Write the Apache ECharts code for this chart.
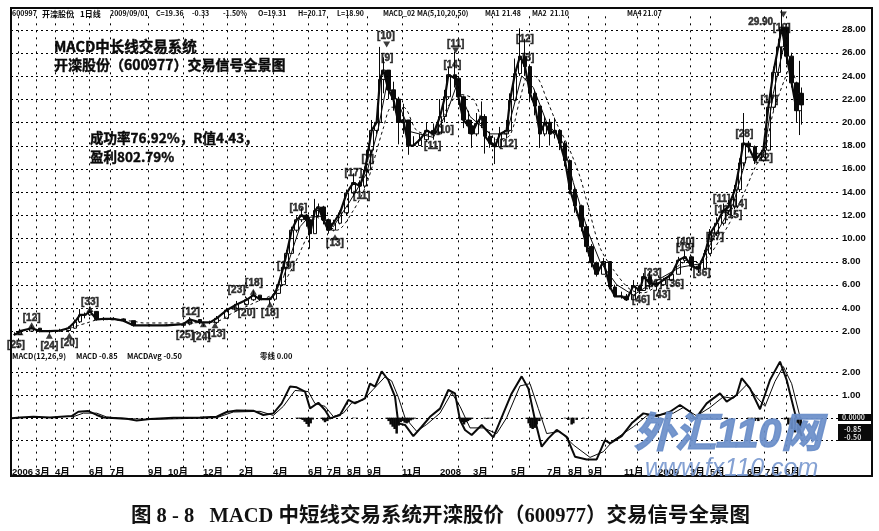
<!DOCTYPE html>
<html><head><meta charset="utf-8">
<style>html,body{margin:0;padding:0;background:#fff}#c{width:879px;height:531px}</style>
<script src="https://cdn.jsdelivr.net/npm/echarts@6/dist/echarts.min.js"></script>
</head><body><div id="c"></div>
<script>
// session position, close, low, high
const candles = [[45,1.7,1.6,1.9],[60,2.0,1.7,2.2],[95,2.25,2.0,2.5],[120,2.0,1.9,2.2],[150,2.0,1.8,2.1],[180,2.05,1.95,2.2],[205,2.25,1.9,2.4],[225,2.8,2.2,3.0],[240,3.4,2.7,3.9],[255,3.4,3.1,3.6],[270,3.7,3.3,4.1],[290,3.0,2.9,3.6],[310,3.05,2.9,3.2],[340,3.05,3.0,3.2],[370,2.9,2.8,3.1],[400,2.5,2.4,2.9],[450,2.5,2.4,2.6],[500,2.5,2.45,2.6],[550,2.6,2.3,2.7],[570,3.0,2.5,3.2],[600,2.75,2.6,3.0],[630,2.75,2.6,2.9],[650,3.1,2.6,3.3],[680,3.8,3.1,4.0],[710,4.3,3.7,4.6],[740,4.7,4.2,4.9],[760,5.1,4.6,5.5],[780,4.75,4.6,5.1],[810,4.75,4.3,4.9],[825,5.25,4.6,5.5],[835,6,5.2,6.2],[850,7.5,6,7.8],[860,8.7,7.4,9],[875,10.7,8.7,11],[890,11.6,10.5,11.9],[905,12,11.4,12.6],[920,11.6,11,12.1],[930,10.4,9.1,11.8],[945,12.4,10.4,13.4],[955,12.7,11.9,13],[970,11.6,11.2,12.8],[985,10.7,10.4,11.7],[1000,11.3,10.6,11.6],[1020,12.2,11.2,12.4],[1040,13.9,12,14.2],[1060,14.8,13.6,15.6],[1080,14.5,14,15],[1095,15.9,14.3,16.2],[1105,17.6,15.6,18.2],[1115,19.3,17.3,20.2],[1130,20,19,20.4],[1140,23.7,20,26.5],[1150,24.5,22.5,25.6],[1165,22.8,22,24.5],[1180,22,21,23.5],[1195,20,18.1,22.2],[1210,20.2,19,21.6],[1225,18,17.2,20.1],[1240,18,17.9,18.8],[1260,18.5,18,19],[1280,19.3,18.3,20],[1300,19,18.5,19.9],[1320,20.5,19.2,22],
[1335,22.2,20,22.8],[1345,24.1,22,24.8],[1365,23.8,23,26.1],[1375,22.2,21.5,24],[1390,20.2,19.5,22.3],[1405,19.7,19,21],[1415,19,17.8,20.2],[1430,19.9,18.8,20.8],[1445,20.5,19.5,21.8],[1455,18.8,17.3,20.7],[1470,18.2,17.8,19.2],[1485,17.9,16.4,18.7],[1500,19,17.8,19.6],[1520,19.3,18.6,20.2],[1530,21.9,19.2,22.5],[1545,24.2,21.8,25.5],[1560,25.7,24,28.1],[1575,24.8,24,27.2],[1590,22.5,21.8,25],[1605,21.4,20.6,22.8],[1620,19,17.8,21.4],[1635,20,18.8,20.5],[1650,19,18,20.3],[1665,19.3,18.6,20.4],[1680,18.2,17.6,19.4],[1695,16.7,16.2,18.4],[1710,14.2,13.8,16.8],[1725,12.8,12.2,14.4],[1745,11,10.6,12.9],[1760,9.3,8.8,11.2],[1775,7.9,7.5,9.5],[1790,6.9,6.7,8],[1810,8,6.9,8.3],[1830,5.8,5.6,8],[1845,5,4.9,6],[1865,5,4.8,5.4],[1880,4.7,4.6,5.2],[1900,5.9,4.7,6.4],[1920,5.5,5.2,6],[1930,6.7,5.5,7],[1950,6.1,5.6,7.2],[1970,6,5.5,6.4],[1990,6.4,5.9,6.6],[2015,6.9,6.3,7.1],[2035,8.1,6.9,8.4],[2055,8.4,7.9,8.9],[2075,7.6,7.2,8.5],[2095,7.4,7,7.8],[2115,8.7,7.3,9],[2130,10.4,8.6,10.8],[2150,11.3,10.2,11.8],[2170,12.4,11.1,13],[2185,12.7,12,13.3],[2205,14.2,12.5,14.6],[2220,16.5,14,16.9],[2230,18.2,16.2,20.8],[2245,17.9,17.4,18.4],[2265,16.7,16.4,18],[2290,17.6,16.6,17.9],[2305,21.3,17.5,21.8],[2320,24.3,21,24.8],[2335,26.5,24,27.2],[2345,28.2,25.5,29.7],[2360,25.7,25,28],[2375,23.4,23,26],[2390,21,20,23.5],[2400,22.5,18.9,25.3],[2405,21.5,19.8,23]];
const ma20 = [[210,2.25],[260,2.7],[300,3.0],[400,2.85],[430,2.7],[640,2.75],[700,3.6],[760,4.4],[830,5.4],[880,7.6],[925,10.4],[950,11.8],[1010,10.7],[1060,12.4],[1100,14.7],[1150,19.5],[1175,21.3],[1210,21.3],[1250,19.3],[1300,18.9],[1320,19.9],[1345,21.4],[1380,22.4],[1420,22],[1450,19.9],[1490,18.5],[1530,18.9],[1560,22],[1585,24],[1610,23.9],[1640,22],[1670,19.9],[1705,17.9],[1740,15.3],[1765,12.7],[1800,9.2],[1840,7.3],[1890,5.6],[1930,5.3],[2000,6.7],[2050,7.9],[2110,8.1],[2170,10.4],[2220,13.1],[2265,16.1],[2295,17.7],[2320,20.9],[2355,23.8],[2375,25.2],[2380,23.4]];
const ma10 = [[850,6.6],[875,8.8],[900,11],[925,11.8],[960,11.9],[1000,11],[1050,13.2],[1100,15.6],[1135,19.5],[1160,23.2],[1190,22],[1230,19.2],[1300,18.7],[1340,20.8],[1370,23.2],[1410,20.5],[1470,19],[1520,19],[1565,24],[1600,23],[1640,20],[1690,18.2],[1720,14.8],[1765,10.5],[1800,8],[1850,6],[1900,5.1],[1960,6.2],[2040,7.5],[2100,7.8],[2150,10.5],[2200,13],[2240,17],[2290,17],[2320,22.5],[2350,26.4],[2385,23.8]];
const macdLine = [[35,-0.03],[60,0.01],[100,0.04],[150,0.01],[215,0.07],[235,0.26],[265,0.29],[290,0.12],[310,0.01],[350,-0.03],[385,-0.06],[410,-0.13],[450,-0.06],[520,0],[600,0.01],[650,0.04],[680,0.25],[710,0.32],[760,0.31],[790,0.12],[820,0.19],[845,0.63],[870,1.37],[890,1.34],[915,1.15],[930,0.41],[955,0.66],[975,0.34],[990,-0.03],[1020,0.12],[1045,0.78],[1065,0.63],[1095,0.85],[1110,1.5],[1125,1.37],[1145,2.04],[1165,1.66],[1185,0.93],[1195,-0.25],[1215,-0.32],[1240,-0.81],[1265,-0.4],[1290,0.04],[1320,0.4],[1345,1.22],[1365,1.07],[1380,-0.1],[1395,-0.54],[1415,-0.76],[1445,-0.32],[1480,-0.87],[1510,0.19],[1535,1.07],[1565,1.82],[1585,1.29],[1605,-0.1],[1625,-1.28],[1645,-0.91],[1670,-0.54],[1700,-0.84],[1725,-1.72],[1760,-1.84],[1790,-1.84],[1815,-0.99],[1830,-1.13],[1865,-0.81],[1895,-0.25],[1930,0.19],[1970,0.07],[2010,0.26],[2040,0.56],[2070,0.26],[2085,-0.07],[2120,0.63],[2160,1.07],[2180,0.71],[2210,1],[2225,1.74],[2250,1.29],[2280,0.37],[2310,1.66],[2340,2.47],[2360,1.66],[2385,0.19],[2405,-0.82]];
const signalLine = [[215,0.02],[250,0.2],[290,0.2],[320,0.03],[400,-0.05],[450,-0.08],[650,0],[700,0.25],[780,0.28],[820,0.1],[850,0.5],[885,1.2],[925,1.15],[945,0.62],[975,0.5],[1000,0.05],[1030,0.2],[1055,0.65],[1090,0.78],[1120,1.25],[1155,1.8],[1175,1.62],[1195,0.9],[1215,0],[1250,-0.6],[1280,-0.3],[1320,0.2],[1355,1.1],[1380,0.5],[1410,-0.45],[1450,-0.45],[1490,-0.7],[1520,0],[1560,1.4],[1590,1.5],[1615,0.4],[1640,-0.7],[1680,-0.6],[1720,-1.2],[1770,-1.75],[1810,-1.5],[1840,-1],[1900,-0.4],[1940,0.08],[2020,0.2],[2050,0.45],[2090,0.08],[2130,0.45],[2170,0.92],[2200,0.85],[2240,1.45],[2270,0.9],[2295,0.5],[2325,1.6],[2350,2.25],[2375,1.5],[2405,-0.25]];
const histogram = [[890,-0.02],[896,-0.04],[902,-0.06],[908,-0.1],[914,-0.18],[920,-0.28],[926,-0.4],[932,-0.25],[938,-0.08],[965,-0.05],[970,-0.12],[975,-0.2],[982,-0.15],[988,-0.07],[1060,-0.02],[1070,-0.02],[1160,-0.05],[1166,-0.15],[1172,-0.3],[1178,-0.4],[1184,-0.5],[1190,-0.7],[1196,-0.35],[1202,-0.2],[1208,-0.15],[1214,-0.22],[1220,-0.25],[1226,-0.2],[1232,-0.12],[1238,-0.08],[1244,-0.04],[1380,-0.05],[1386,-0.2],[1392,-0.3],[1398,-0.2],[1404,-0.15],[1410,-0.1],[1416,-0.05],[1455,-0.04],[1465,-0.05],[1475,-0.05],[1580,-0.05],[1586,-0.25],[1592,-0.45],[1598,-0.5],[1604,-0.45],[1610,-0.3],[1618,-0.15],[1626,-0.05],[1695,-0.03],[1705,-0.1],[1715,-0.3],[1720,-0.25],[1730,-0.1],[1750,-0.03],[2175,-0.05],[2180,-0.06],[2245,-0.04],[2255,-0.1],[2265,-0.14],[2275,-0.15],[2285,-0.08],[2355,-0.08],[2365,-0.3],[2375,-0.5],[2385,-0.65],[2395,-0.7],[2402,-0.45]];
const signalMarks = [["[25]",48,0.8],["[12]",95,3.1],["[24]",148,0.7],["[20]",208,0.95],["[33]",270,4.45],["[12]",573,3.65],["[25]",555,1.6],["[24]",605,1.5],["[13]",650,1.7],["[23]",710,5.55],["[18]",762,6.1],["[20]",740,3.55],["[18]",810,3.55],["[19]",858,7.6],["[16]",895,12.6],["[13]",1005,9.55],["[17]",1060,15.6],["[11]",1085,13.6],["[7]",1103,16.8],["[10]",1158,27.4],["[9]",1162,25.5],["[11]",1298,17.9],["[11]",1367,26.75],["[14]",1357,24.9],["[10]",1335,19.3],["[12]",1575,27.2],["[3]",1585,25.5],["[12]",1525,18.1],["[46]",1923,4.7],["[23]",1958,7],["[26]",1960,6],["[43]",1985,5.1],["[36]",2025,6.05],["[36]",2105,7],["[40]",2057,9.7],["[19]",2055,9.1],["[27]",2145,10.1],["[11]",2165,13.4],["[12]",2170,12.4],["[14]",2215,12.9],["[15]",2200,12],["[28]",2233,19],["[22]",2292,16.9],["[17]",2308,21.9],["[19]",2345,28.1],["29.90",2282,28.6]];
const arrowsUp = [[60,1.9],[95,2.5],[148,1.6],[208,1.6],[270,3.9],[570,2.9],[610,2.6],[645,2.5],[705,4.1],[760,5.4],[810,4.3],[1005,10.1]];
const arrowsDown = [[1160,26.7],[1367,26.2],[2350,29.3]];
const monthLabels = {36:"2006",105:"3月",165:"4月",267:"6月",330:"7月",444:"9月",504:"10月",609:"12月",717:"2月",819:"4月",924:"6月",981:"7月",1041:"8月",1101:"9月",1206:"11月",1320:"2008",1419:"3月",1533:"5月",1641:"7月",1704:"8月",1764:"9月",1872:"11月",1974:"2009",2070:"3月",2130:"5月",2241:"6月",2295:"7月",2355:"8月"};
const verticalLines = [55,108,165,218,268,330,445,550,610,680,735,820,925,980,1040,1100,1205,1375,1475,1588,1705,1763,1815,1910,1975,2070,2130,2293,2358];
const priceTicks = [28,26,24,22,20,18,16,14,12,10,8,6,4,2];
const macdGrid = [2,1,0,-1];
const macdTicks = [2,1];

const ink = '#0a0a0a';
const cjk = '"Noto Sans CJK SC","Liberation Sans",sans-serif';
const monthTicks = Object.keys(monthLabels).map(Number);
const candleData = candles.map((c,i)=>[c[0], i? candles[i-1][1]:c[1], c[1], c[2], c[3]]);
const xBase = {type:'value',min:33,max:2514,axisLine:{show:false},axisTick:{show:false},splitLine:{show:false}};
const t = (text,x,y,size,extra)=>({type:'text',z:50,style:Object.assign({text,x,y,font:'bold '+size+'px '+cjk,fill:ink,textVerticalAlign:'middle'},extra||{})});
const heavy = {stroke:ink,lineWidth:0.4};
const chart = echarts.init(document.getElementById('c'),null,{renderer:'canvas'});
chart.setOption({
  animation:false, backgroundColor:'#fff',
  grid:[{left:11,top:6.3,width:827,height:348},{left:11,top:358,width:827,height:118}],
  xAxis:[Object.assign({gridIndex:0,axisLabel:{show:false}},xBase),
    Object.assign({gridIndex:1,axisLabel:{show:true,inside:true,margin:-1,customValues:monthTicks,hideOverlap:false,align:'left',
      fontFamily:'Liberation Sans,Noto Sans CJK SC',fontWeight:'bold',fontSize:9.5,color:ink,formatter:v=>monthLabels[v]||''}},xBase)],
  yAxis:[{gridIndex:0,type:'value',position:'right',min:0,max:30,interval:2,axisLine:{show:false},axisTick:{show:false},
      axisLabel:{margin:4,fontFamily:'Liberation Sans',fontWeight:'bold',fontSize:9.5,color:ink,formatter:v=>priceTicks.includes(v)?v.toFixed(2):''},
      splitLine:{show:false}},
    {gridIndex:1,type:'value',position:'right',min:-2.57,max:2.63,axisLine:{show:false},axisTick:{show:false,customValues:macdGrid},
      axisLabel:{margin:4,customValues:macdTicks,fontFamily:'Liberation Sans',fontWeight:'bold',fontSize:9.5,color:ink,formatter:v=>v.toFixed(2)},
      splitLine:{show:false}}],
  series:[
    {type:'candlestick',xAxisIndex:0,yAxisIndex:0,barWidth:4,data:candleData,
      itemStyle:{color:'#fff',color0:ink,borderColor:ink,borderColor0:ink,borderWidth:1}},
    {type:'line',xAxisIndex:0,yAxisIndex:0,data:candles.map(c=>[c[0],c[1]]),symbol:'none',lineStyle:{color:ink,width:2.2}},
    {type:'line',xAxisIndex:0,yAxisIndex:0,data:ma10,symbol:'none',lineStyle:{color:ink,width:1}},
    {type:'line',xAxisIndex:0,yAxisIndex:0,data:ma20,symbol:'none',smooth:0.3,lineStyle:{color:ink,width:1,type:[3,3]}},
    {type:'scatter',xAxisIndex:0,yAxisIndex:0,data:arrowsUp,symbol:'triangle',symbolSize:[7,6],itemStyle:{color:ink}},
    {type:'scatter',xAxisIndex:0,yAxisIndex:0,data:arrowsDown,symbol:'triangle',symbolRotate:180,symbolSize:[7,6],itemStyle:{color:ink}},
    {type:'scatter',xAxisIndex:0,yAxisIndex:0,symbolSize:0,z:6,
      data:signalMarks.map(s=>({name:s[0],value:[s[1],s[2]]})),
      label:{show:true,position:'inside',formatter:p=>p.name,fontFamily:'Liberation Sans',fontWeight:'bold',fontSize:10,color:ink,textBorderColor:ink,textBorderWidth:0.5}},
    {type:'bar',xAxisIndex:1,yAxisIndex:1,data:histogram,barWidth:2.5,itemStyle:{color:ink}},
    {type:'line',xAxisIndex:1,yAxisIndex:1,data:signalLine,symbol:'none',lineStyle:{color:ink,width:1}},
    {type:'line',xAxisIndex:1,yAxisIndex:1,data:macdLine,symbol:'none',lineStyle:{color:ink,width:2}}
  ]
});
// dotted guides, placed through the axes of each panel
const guides = [];
const dash = (x1,y1,x2,y2,d)=>guides.push({type:'line',z:30,shape:{x1,y1,x2,y2},style:{stroke:'#000',lineWidth:1,lineDash:d}});
[[0,0.6,29.2,priceTicks],[1,-2.2,2.4,macdGrid]].forEach(([g,lo,hi,rows])=>{
  const finder = {xAxisIndex:g,yAxisIndex:g};
  verticalLines.forEach(v=>{
    const a = chart.convertToPixel(finder,[v,lo]), b = chart.convertToPixel(finder,[v,hi]);
    const x = Math.round(a[0])+0.5;
    dash(x,a[1],x,b[1],[2,5]);
  });
  rows.forEach(v=>{
    const a = chart.convertToPixel(finder,[33,v]), b = chart.convertToPixel(finder,[2514,v]);
    const y = Math.round(a[1])+0.5;
    dash(a[0],y,b[0],y,[2,3]);
  });
});
chart.setOption({graphic:guides.concat([
    {type:'rect',z:40,shape:{x:11,y:8,width:861,height:468},style:{fill:'none',stroke:ink,lineWidth:2}},
    {type:'rect',z:41,shape:{x:838,y:414,width:34,height:7},style:{fill:ink}},
    {type:'rect',z:41,shape:{x:838,y:424,width:34,height:17},style:{fill:ink}},
    t('0.0000',842,417.5,7,{fill:'#ddd'}),t('-0.85',844,429,7,{fill:'#ddd'}),t('-0.50',844,437,7,{fill:'#ddd'}),
    t('600997',12,13.5,7),t('开滦股份',42,13.5,8),t('1日线',80,13.5,8),t('2009/09/01',110,13.5,7),t('C=19.36',156,13.5,7),t('-0.33',192,13.5,7),t('-1.50%',223,13.5,7),t('O=19.31',258,13.5,7),t('H=20.17',298,13.5,7),t('L=18.90',337,13.5,7),t('MACD_02',383,13.5,7),t('MA(5,10,20,50)',417,13.5,7),t('MA1',485,13.5,7),t('21.48',502,13.5,7),t('MA2',532,13.5,7),t('21.10',550,13.5,7),t('MA4',627,13.5,7),t('21.07',643,13.5,7),
    t('MACD(12,26,9)',12,356,7.5),t('MACD -0.85',76,356,7.5),t('MACDAvg -0.50',127,356,7.5),t('零线 0.00',260,356,7.5),
    t('MACD中长线交易系统',54,46,14.5,heavy),
    t('开滦股份（600977）交易信号全景图',54,65,14,heavy),
    t('成功率76.92%，R值4.43，',90,138,13.5,heavy),
    t('盈利802.79%',90,157,13.5,heavy),
    {type:'text',z:60,style:{text:'图 8 - 8   MACD 中短线交易系统开滦股价（600977）交易信号全景图',x:131,y:517,font:'bold 20.5px "Liberation Serif","Noto Sans CJK SC",serif',fill:'#111',textVerticalAlign:'middle'}},
    {type:'text',z:70,style:{text:'外汇110网',x:634,y:436,font:'italic bold 41px "Liberation Sans","Noto Sans CJK SC",sans-serif',fill:'rgba(106,142,201,0.92)',stroke:'rgba(106,142,201,0.92)',lineWidth:1.5,textVerticalAlign:'middle'}},
    {type:'text',z:70,style:{text:'www.fx110.com',x:645,y:469,font:'italic 25px "Liberation Sans",sans-serif',fill:'rgba(115,148,205,0.88)',textVerticalAlign:'middle'}}
])});
</script></body></html>
